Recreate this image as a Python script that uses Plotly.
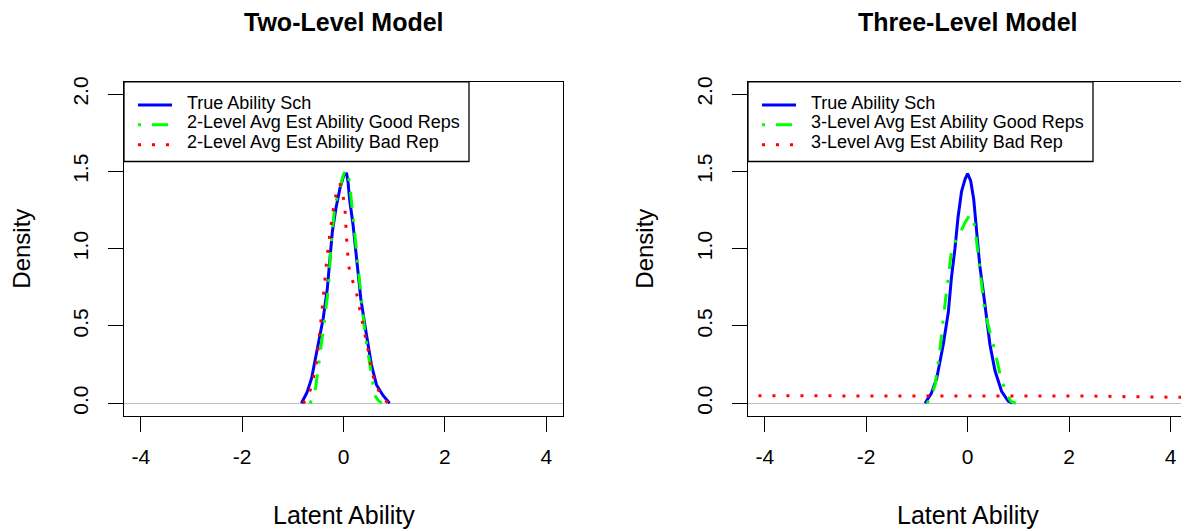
import plotly.graph_objects as go

# ---------------- data ----------------
left_true_x = [-0.83, -0.72, -0.63, -0.50, -0.40, -0.32, -0.27, -0.22, -0.15, -0.07, 0.006, 0.06, 0.09, 0.12, 0.19, 0.24, 0.29, 0.34, 0.42, 0.49, 0.55, 0.65, 0.78, 0.91]
left_true_y = [0.0, 0.07, 0.16, 0.38, 0.55, 0.74, 0.94, 1.11, 1.26, 1.39, 1.475, 1.49, 1.43, 1.32, 1.15, 1.00, 0.85, 0.68, 0.51, 0.36, 0.25, 0.12, 0.05, 0.0]

left_good_x = [-0.66, -0.60, -0.55, -0.47, -0.37, -0.30, -0.24, -0.17, -0.07, 0.0, 0.05, 0.10, 0.14, 0.19, 0.26, 0.355, 0.42, 0.52, 0.62, 0.68, 0.75]
left_good_y = [0.0, 0.04, 0.10, 0.29, 0.55, 0.74, 1.05, 1.28, 1.39, 1.48, 1.51, 1.47, 1.36, 1.20, 0.98, 0.70, 0.46, 0.25, 0.05, 0.02, 0.0]

left_bad_x = [-0.80, -0.73, -0.62, -0.53, -0.43, -0.37, -0.32, -0.27, -0.22, -0.13, -0.07, -0.02, 0.03, 0.06, 0.10, 0.17, 0.24, 0.32, 0.42, 0.50, 0.57, 0.66, 0.78, 0.88]
left_bad_y = [0.0, 0.02, 0.12, 0.27, 0.58, 0.81, 0.96, 1.09, 1.22, 1.38, 1.42, 1.37, 1.25, 1.07, 0.89, 0.80, 0.74, 0.61, 0.46, 0.32, 0.19, 0.10, 0.035, 0.0]

right_true_x = [-0.84, -0.72, -0.61, -0.48, -0.38, -0.32, -0.25, -0.19, -0.12, -0.05, 0.0, 0.06, 0.12, 0.18, 0.24, 0.31, 0.37, 0.44, 0.54, 0.67, 0.80, 0.88]
right_true_y = [0.0, 0.06, 0.16, 0.38, 0.59, 0.81, 1.00, 1.20, 1.37, 1.45, 1.485, 1.44, 1.32, 1.11, 0.89, 0.72, 0.55, 0.38, 0.21, 0.077, 0.013, 0.0]

right_good_x = [-0.80, -0.72, -0.64, -0.55, -0.48, -0.38, -0.32, -0.24, -0.15, -0.05, 0.045, 0.14, 0.19, 0.27, 0.34, 0.44, 0.54, 0.64, 0.77, 0.86, 0.95]
right_good_y = [0.0, 0.04, 0.12, 0.335, 0.55, 0.81, 0.98, 1.05, 1.10, 1.17, 1.22, 1.15, 1.00, 0.79, 0.59, 0.46, 0.335, 0.185, 0.056, 0.01, 0.0]

right_bad_x = [-4.40, -3.0, -1.5, 0.0, 1.5, 2.5, 3.0, 3.5, 4.0, 4.5]
right_bad_y = [0.048, 0.048, 0.048, 0.048, 0.047, 0.046, 0.043, 0.040, 0.038, 0.037]

x_ticks = [-4, -2, 0, 2, 4]
x_tick_labels = ["-4", "-2", "0", "2", "4"]
y_ticks = [0, 0.5, 1.0, 1.5, 2.0]
y_tick_labels = ["0.0", "0.5", "1.0", "1.5", "2.0"]

titles = ["Two-Level Model", "Three-Level Model"]
x_title = "Latent Ability"
y_title = "Density"
left_names = ["True Ability Sch", "2-Level Avg Est Ability Good Reps", "2-Level Avg Est Ability Bad Rep"]
right_names = ["True Ability Sch", "3-Level Avg Est Ability Good Reps", "3-Level Avg Est Ability Bad Rep"]

# ---------------- styling ----------------
W, H = 1181, 529
FONT = "Liberation Sans, Arial, sans-serif"
BLUE, GREEN, RED = "#0000FF", "#00FF00", "#FF0000"
COLORS = [BLUE, GREEN, RED]
LW = 3
DASHDOT = "3px,11px,16px,11px"
DOTTED = "3px,11px"
DASHES = ["solid", DASHDOT, DOTTED]

# plot boxes in pixels
L_left, L_right = 124, 563
R_left = 748
box_top, box_bot = 77.5, 414.5


def px_x(p):
    return p / W


def px_y(p):
    return 1 - p / H


fig = go.Figure()


def add(x, y, name, color, dash, xa, ya):
    fig.add_trace(go.Scatter(
        x=x, y=y, mode="lines", name=name, showlegend=False,
        line=dict(color=color, width=LW, dash=dash),
        xaxis=xa, yaxis=ya, hoverinfo="skip"))


add(left_true_x, left_true_y, left_names[0], BLUE, "solid", "x", "y")
add(left_good_x, left_good_y, left_names[1], GREEN, DASHDOT, "x", "y")
add(left_bad_x, left_bad_y, left_names[2], RED, DOTTED, "x", "y")
add(right_true_x, right_true_y, right_names[0], BLUE, "solid", "x2", "y2")
add(right_good_x, right_good_y, right_names[1], GREEN, DASHDOT, "x2", "y2")
add(right_bad_x, right_bad_y, right_names[2], RED, DOTTED, "x2", "y2")

xr_left = [-4.33, 4.33]
x0_right_px = 967.7
scale = 50.7
xr_right = [-4.33, (W - x0_right_px) / scale]

axis_common = dict(
    showgrid=False, ticks="outside", ticklen=15, tickwidth=1.3, tickcolor="black",
    showline=True, linecolor="black", linewidth=1.3,
    tickfont=dict(family=FONT, size=21, color="black"),
)

fig.update_layout(
    width=W, height=H, autosize=False,
    margin=dict(l=0, r=0, t=0, b=0),
    paper_bgcolor="white", plot_bgcolor="white",
    font=dict(family=FONT, color="black"),
    showlegend=False,
    xaxis=dict(domain=[px_x(L_left), px_x(L_right)], range=xr_left, tickvals=x_ticks,
               ticktext=x_tick_labels, mirror=True, anchor="y", zeroline=False,
               ticklabelstandoff=7, **axis_common),
    yaxis=dict(domain=[px_y(box_bot), px_y(box_top)], range=[-0.08, 2.08], tickvals=y_ticks,
               ticktext=y_tick_labels, tickangle=-90, mirror=True, anchor="x",
               zeroline=True, zerolinecolor="#BEBEBE", zerolinewidth=1.3,
               ticklabelstandoff=11, **axis_common),
    xaxis2=dict(domain=[px_x(R_left), 1.0], range=xr_right, tickvals=x_ticks,
                ticktext=x_tick_labels, mirror=True, anchor="y2", zeroline=False,
                ticklabelstandoff=7, **axis_common),
    yaxis2=dict(domain=[px_y(box_bot), px_y(box_top)], range=[-0.08, 2.08], tickvals=y_ticks,
                ticktext=y_tick_labels, tickangle=-90, mirror=False, anchor="x2",
                zeroline=True, zerolinecolor="#BEBEBE", zerolinewidth=1.3,
                ticklabelstandoff=11, **axis_common),
)

ann = []
shapes = []
for cx, t in [((L_left + L_right) / 2, titles[0]), (x0_right_px, titles[1])]:
    ann.append(dict(x=px_x(cx), y=px_y(17), xref="paper", yref="paper", text="<b>" + t + "</b>",
                    showarrow=False, xanchor="center", yanchor="middle",
                    font=dict(family=FONT, size=25, color="black")))
    ann.append(dict(x=px_x(cx), y=px_y(515), xref="paper", yref="paper", text=x_title,
                    showarrow=False, xanchor="center", yanchor="middle",
                    font=dict(family=FONT, size=25, color="black")))
for cx in [22, 645]:
    ann.append(dict(x=px_x(cx), y=px_y((box_top + box_bot) / 2), xref="paper", yref="paper",
                    text=y_title, textangle=-90, showarrow=False, xanchor="center", yanchor="middle",
                    font=dict(family=FONT, size=24, color="black")))

# legends (R-style boxes at top-left of each panel)
LEG_W, LEG_H = 345, 80.5
row_y = [101, 121, 141]
for x0, names in [(L_left, left_names), (R_left, right_names)]:
    shapes.append(dict(type="rect", xref="paper", yref="paper",
                       x0=px_x(x0), x1=px_x(x0 + LEG_W), y0=px_y(box_top), y1=px_y(box_top + LEG_H),
                       line=dict(color="black", width=1.3), fillcolor="white", layer="above"))
    for i, nm in enumerate(names):
        shapes.append(dict(type="line", xref="paper", yref="paper",
                           x0=px_x(x0 + 14), x1=px_x(x0 + 48), y0=px_y(row_y[i]), y1=px_y(row_y[i]),
                           line=dict(color=COLORS[i], width=LW, dash=DASHES[i]), layer="above"))
        ann.append(dict(x=px_x(x0 + 61), y=px_y(row_y[i] - 2.5), xref="paper", yref="paper", text=nm,
                        showarrow=False, xanchor="left", yanchor="middle",
                        font=dict(family=FONT, size=18, color="black")))

fig.update_layout(annotations=ann, shapes=shapes)

fig.write_html("out.html")
